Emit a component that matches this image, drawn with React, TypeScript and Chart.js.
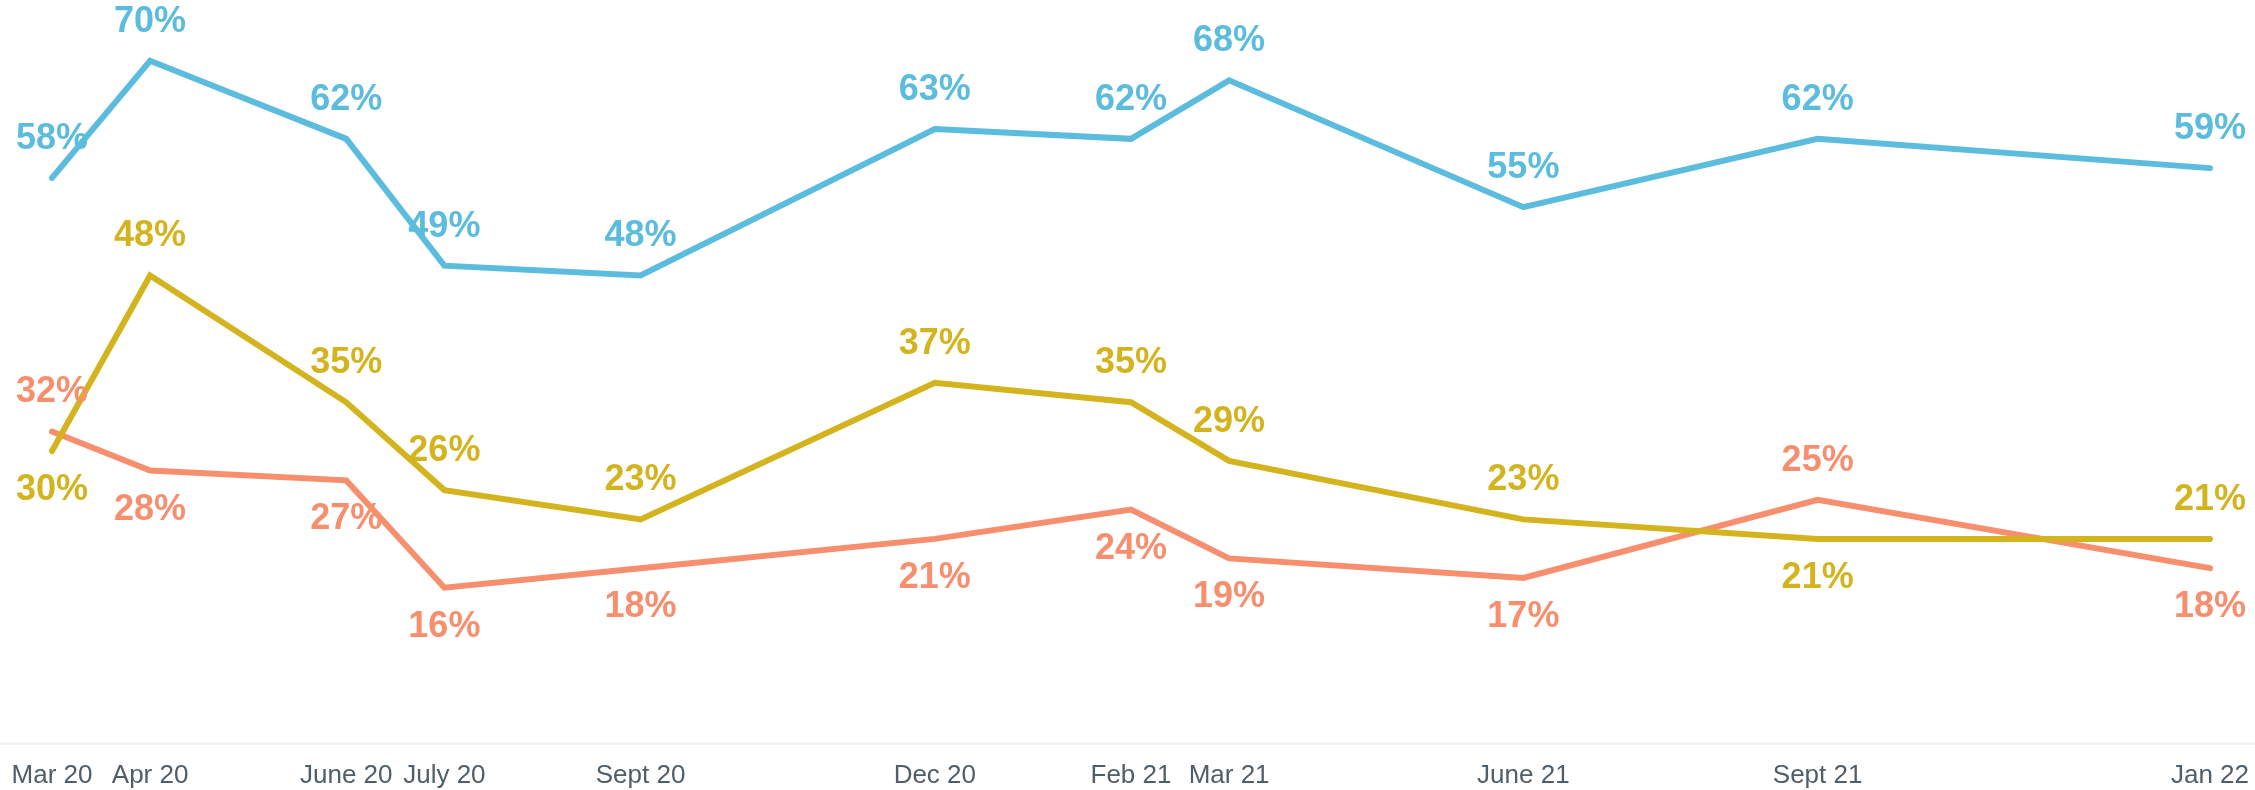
import React, { useEffect, useRef } from "react";
import { Chart, registerables } from "chart.js";

Chart.register(...registerables);

// months since Mar 2020
const monthIndex = [0, 1, 3, 4, 6, 9, 11, 12, 15, 18, 22];
const tickLabels = ["Mar 20", "Apr 20", "June 20", "July 20", "Sept 20", "Dec 20", "Feb 21", "Mar 21", "June 21", "Sept 21", "Jan 22"];

const blueValues = [58, 70, 62, 49, 48, 63, 62, 68, 55, 62, 59];
const yellowValues = [30, 48, 35, 26, 23, 37, 35, 29, 23, 21, 21];
const orangeValues = [32, 28, 27, 16, 18, 21, 24, 19, 17, 25, 18];

// label placement: 1 = above, -1 = below
const blueLabelPos = [1, 1, 1, 1, 1, 1, 1, 1, 1, 1, 1];
const yellowLabelPos = [-1, 1, 1, 1, 1, 1, 1, 1, 1, -1, 1];
const orangeLabelPos = [1, -1, -1, -1, -1, -1, -1, -1, -1, 1, -1];

const BLUE = "#5bbcdd";
const YELLOW = "#d4b41e";
const ORANGE = "#f78e6e";

const FONT = "Arial, 'Liberation Sans', Helvetica, sans-serif";

export default function App() {
  const ref = useRef<HTMLCanvasElement | null>(null);

  useEffect(() => {
    document.body.style.margin = "0";
    const canvas = ref.current;
    if (!canvas) return;

    const toPoints = (vals: number[]) => vals.map((v, i) => ({ x: monthIndex[i], y: v }));

    const baseLinePlugin = {
      id: "baseLine",
      beforeDatasetsDraw(chart: any) {
        const { ctx, chartArea, width } = chart;
        ctx.save();
        ctx.strokeStyle = "#eef0f2";
        ctx.lineWidth = 2;
        ctx.beginPath();
        ctx.moveTo(0, chartArea.bottom);
        ctx.lineTo(width, chartArea.bottom);
        ctx.stroke();
        ctx.restore();
      },
    };

    const labelPlugin = {
      id: "valueLabels",
      afterDatasetsDraw(chart: any) {
        const { ctx } = chart;
        ctx.save();
        ctx.font = `bold 36px ${FONT}`;
        ctx.textAlign = "center";
        ctx.textBaseline = "middle";
        chart.data.datasets.forEach((ds: any, di: number) => {
          const meta = chart.getDatasetMeta(di);
          ctx.fillStyle = ds.borderColor;
          meta.data.forEach((pt: any, i: number) => {
            const pos = ds.labelPos[i];
            const val = ds.data[i].y;
            ctx.fillText(`${val}%`, pt.x, pt.y - pos * 39);
          });
        });
        ctx.restore();
      },
    };

    const mkDs = (vals: number[], color: string, labelPos: number[]) =>
      ({
        data: toPoints(vals),
        borderColor: color,
        backgroundColor: color,
        borderWidth: 6,
        pointRadius: 0,
        borderCapStyle: "round",
        labelPos,
      } as any);

    const chart = new Chart(canvas, {
      type: "line",
      data: {
        datasets: [
          mkDs(blueValues, BLUE, blueLabelPos),
          mkDs(yellowValues, YELLOW, yellowLabelPos),
          mkDs(orangeValues, ORANGE, orangeLabelPos),
        ],
      },
      options: {
        animation: false,
        responsive: false,
        maintainAspectRatio: false,
        clip: false as any,
        layout: { padding: { top: 12, left: 52, right: 45, bottom: -17 } },
        plugins: {
          legend: { display: false },
          tooltip: { enabled: false },
        },
        scales: {
          x: {
            type: "linear",
            min: 0,
            max: 22,
            afterBuildTicks(scale: any) {
              scale.ticks = monthIndex.map((v) => ({ value: v }));
            },
            afterFit(scale: any) {
              scale.paddingLeft = 0;
              scale.paddingRight = 0;
            },
            grid: { display: false, drawTicks: false },
            border: { display: false },
            ticks: {
              autoSkip: false,
              maxRotation: 0,
              padding: 16,
              color: "#4f5e69",
              font: { family: FONT, size: 26 },
              callback(value: any) {
                const idx = monthIndex.indexOf(Number(value));
                return idx >= 0 ? tickLabels[idx] : "";
              },
            },
          },
          y: {
            display: false,
            min: 0,
            max: 75,
          },
        },
      },
      plugins: [baseLinePlugin, labelPlugin],
    });

    return () => chart.destroy();
  }, []);

  return (
    <div style={{ width: 2255, height: 790 }}>
      <canvas ref={ref} width={2255} height={790} style={{ width: 2255, height: 790, display: "block" }} />
    </div>
  );
}
